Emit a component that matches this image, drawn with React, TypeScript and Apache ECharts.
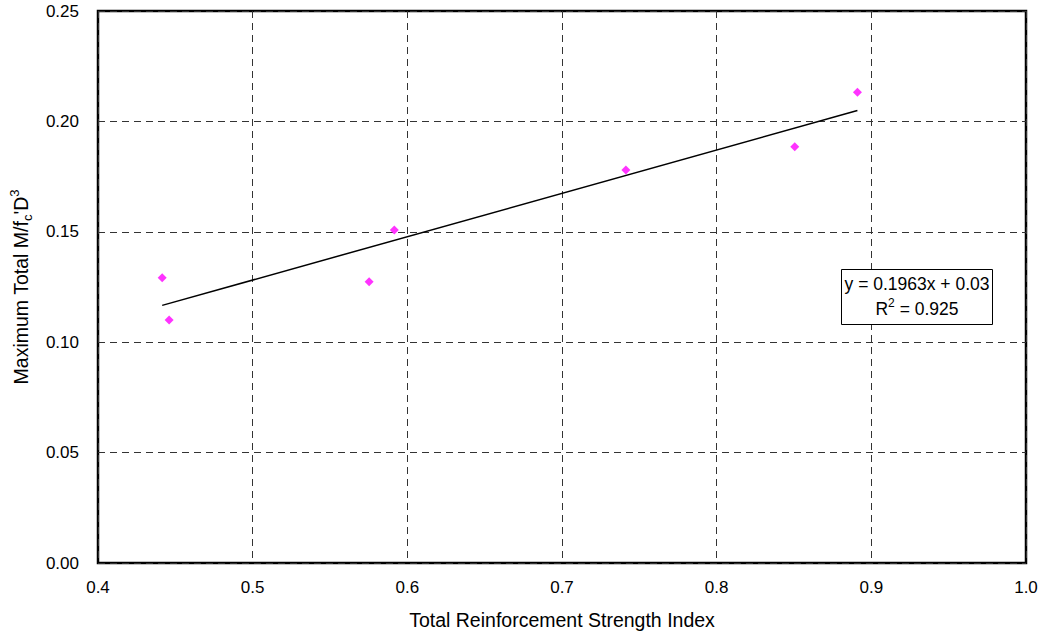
import React, { useEffect, useRef } from "react";
import * as echarts from "echarts";

// Measured specimens: reinforcement strength index vs. normalised peak moment
const strengthIndex = [0.4415, 0.446, 0.5753, 0.5916, 0.7413, 0.8505, 0.891];
const momentRatio = [0.1292, 0.11, 0.1274, 0.1508, 0.178, 0.1885, 0.2132];

// Linear fit reported for the data set
const trendSlope = 0.1963;
const trendIntercept = 0.03;
const rSquared = 0.925;

const xAxisMin = 0.4;
const xAxisMax = 1.0;
const xAxisStep = 0.1;
const yAxisMin = 0;
const yAxisMax = 0.25;
const yAxisStep = 0.05;

const FONT = "'Liberation Sans', Arial, sans-serif";
const TICK_SIZE = 17;
const TITLE_SIZE = 19.5;
const NOTE_SIZE = 17.5;

export default function App() {
  const ref = useRef<HTMLDivElement>(null);

  useEffect(() => {
    if (!ref.current) return;
    const chart = echarts.init(ref.current, null, { renderer: "svg" });

    const points = strengthIndex.map((x, i) => [x, momentRatio[i]]);
    const xStart = Math.min(...strengthIndex);
    const xEnd = Math.max(...strengthIndex);
    const trend = [
      [xStart, trendSlope * xStart + trendIntercept],
      [xEnd, trendSlope * xEnd + trendIntercept],
    ];

    const dashed = { color: "#333", width: 1, type: [7, 5] as any };

    chart.setOption({
      animation: false,
      backgroundColor: "#fff",
      textStyle: { fontFamily: FONT },
      grid: {
        left: 96,
        right: 16,
        top: 11,
        bottom: 73,
        show: true,
        borderColor: "#000",
        borderWidth: 2.5,
        backgroundColor: "transparent",
      },
      xAxis: {
        type: "value",
        min: xAxisMin,
        max: xAxisMax,
        interval: xAxisStep,
        name: "Total Reinforcement Strength Index",
        nameLocation: "middle",
        nameGap: 47,
        nameTextStyle: { fontSize: TITLE_SIZE, color: "#000", fontFamily: FONT },
        axisLine: { show: false },
        axisTick: { show: false },
        axisLabel: {
          fontSize: TICK_SIZE,
          color: "#000",
          margin: 16,
          fontFamily: FONT,
          formatter: (v: number) => v.toFixed(1),
        },
        splitLine: { show: true, lineStyle: dashed },
      },
      yAxis: {
        type: "value",
        min: yAxisMin,
        max: yAxisMax,
        interval: yAxisStep,
        name: "{t|Maximum Total M/f}{sub|c}{t|'D}{sup|3}",
        nameLocation: "middle",
        nameGap: 64,
        nameRotate: 90,
        nameTextStyle: {
          fontSize: TITLE_SIZE,
          color: "#000",
          fontFamily: FONT,
          rich: {
            t: { fontSize: TITLE_SIZE, lineHeight: 26, fontFamily: FONT, color: "#000" },
            sub: { fontSize: 13, lineHeight: 12, verticalAlign: "bottom", fontFamily: FONT, color: "#000" },
            sup: { fontSize: 13, lineHeight: 12, verticalAlign: "top", fontFamily: FONT, color: "#000" },
          },
        },
        axisLine: { show: false },
        axisTick: { show: false },
        axisLabel: {
          fontSize: TICK_SIZE,
          color: "#000",
          margin: 19,
          fontFamily: FONT,
          formatter: (v: number) => v.toFixed(2),
        },
        splitLine: { show: true, lineStyle: dashed },
      },
      series: [
        {
          type: "line",
          data: trend,
          symbol: "none",
          lineStyle: { color: "#000", width: 1.5 },
          silent: true,
          z: 2,
        },
        {
          type: "scatter",
          data: points,
          symbol: "diamond",
          symbolSize: 9,
          itemStyle: { color: "#FF00FF" },
          z: 3,
        },
      ],
      graphic: [
        {
          type: "group",
          left: 841,
          top: 269,
          z: 100,
          children: [
            {
              type: "rect",
              z: 100,
              shape: { x: 0, y: 0, width: 151, height: 55 },
              style: { fill: "#fff", stroke: "#000", lineWidth: 1 },
            },
            {
              type: "text",
              z: 101,
              x: 75.5,
              y: 5,
              style: {
                text: `y = ${trendSlope}x + ${trendIntercept}`,
                fontSize: NOTE_SIZE,
                fontFamily: FONT,
                fill: "#000",
                align: "center",
                verticalAlign: "top",
              },
            },
            {
              type: "text",
              z: 101,
              x: 75.5,
              y: 27,
              style: {
                text: `{t|R}{sup|2}{t| = ${rSquared}}`,
                fontSize: NOTE_SIZE,
                fontFamily: FONT,
                fill: "#000",
                align: "center",
                verticalAlign: "top",
                rich: {
                  t: { fontSize: NOTE_SIZE, lineHeight: 24, fontFamily: FONT, fill: "#000" },
                  sup: { fontSize: 12, lineHeight: 11, verticalAlign: "top", fontFamily: FONT, fill: "#000" },
                },
              },
            },
          ],
        },
      ],
    });

    return () => chart.dispose();
  }, []);

  return (
    <div
      ref={ref}
      style={{ position: "absolute", left: 0, top: 0, width: 1042, height: 636 }}
    />
  );
}
